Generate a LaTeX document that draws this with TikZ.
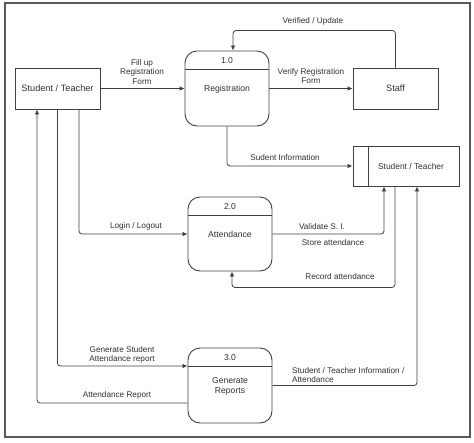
\documentclass[tikz,border=0pt]{standalone}
\usepackage{fontspec}
\setmainfont{Liberation Sans}
\usetikzlibrary{arrows.meta,calc}
\definecolor{ln}{HTML}{404040}
\definecolor{tx}{HTML}{303030}
\tikzset{
  entity/.style={draw=ln,line width=0.9pt,minimum width=85pt,minimum height=41pt,inner sep=0pt,font=\fontsize{9.2}{11}\selectfont,text=tx},
  proc/.style={draw=ln,line width=0.9pt,rounded corners=12pt,minimum width=84pt,minimum height=75pt,inner sep=0pt},
  ptxt/.style={font=\fontsize{8.6}{10}\selectfont,text=tx,align=center},
  lbl/.style={font=\fontsize{8.2}{9.4}\selectfont,text=tx,align=center,inner sep=0pt},
  flow/.style={draw=ln,line width=0.8pt,rounded corners=3pt,-{Latex[length=5pt,width=4.5pt]}}
}
\begin{document}
\begin{tikzpicture}[x=1pt,y=-1pt]
\useasboundingbox (0,0) rectangle (474,442);
\draw[draw=gray!70!black,line width=1.4pt] (5,3) rectangle (470,437);

% entities
\node[entity] (st) at (57.5,88.5) {Student / Teacher};
\node[entity] (staff) at (395.5,88.5) {Staff};
\node[entity,minimum width=106pt,minimum height=40pt] (ds) at (406,166) {\hspace*{10pt}\fontsize{8.4}{10}\selectfont Student / Teacher};
\draw[ln,line width=0.9pt] ([xshift=16pt]ds.north west) -- ([xshift=16pt]ds.south west);

% processes
\node[proc] (reg) at (227,88.5) {};
\draw[ln,line width=0.9pt] ($(reg.north west)+(0,19)$) -- ($(reg.north east)+(0,19)$);
\node[ptxt] (reg1) at (227,61) {1.0};
\node[ptxt] (reg2) at (227,89) {Registration};

\node[proc,minimum height=74pt] (att) at (230,234) {};
\draw[ln,line width=0.9pt] ($(att.north west)+(0,19)$) -- ($(att.north east)+(0,19)$);
\node[ptxt] (att1) at (230,207) {2.0};
\node[ptxt] (att2) at (230,234) {Attendance};

\node[proc] (gen) at (230,385.5) {};
\draw[ln,line width=0.9pt] ($(gen.north west)+(0,19)$) -- ($(gen.north east)+(0,19)$);
\node[ptxt] (gen1) at (230,358) {3.0};
\node[ptxt,font=\fontsize{8.6}{10}\selectfont] (gen2) at (230,386) {Generate\\Reports};

% flows
\draw[flow] (st.east) -- (reg.west);
\draw[flow] (reg.east) -- (staff.west);
\draw[flow] (staff.north) -- ++(0,-37) -| ([xshift=6pt]reg.north);
\draw[flow] (reg.south) |- (ds.west);
\draw[flow] ([xshift=21.5pt]st.south) |- (att.west);
\draw[flow] (st.south) |- ([yshift=19.5pt]gen.west);
\draw[flow] ([yshift=-17.5pt]gen.west) -| ([xshift=-20.5pt]st.south);
\draw[flow] (att.east) -| ([xshift=-22pt]ds.south);
\draw[flow] ([xshift=-11pt]ds.south) -- ++(0,101) -| ([xshift=2pt]att.south);
\draw[flow] (gen.east) -| ([xshift=11pt]ds.south);

% labels
\node[lbl] (l1) at (142,72) {Fill up\\Registration\\Form};
\node[lbl] (l2) at (311,76) {Verify Registration\\Form};
\node[lbl] (l3) at (313,21) {Verified / Update};
\node[lbl] (l4) at (285,158) {Sudent Information};
\node[lbl] (l5) at (136,226) {Login / Logout};
\node[lbl] (l6) at (322,227) {Validate S. I.};
\node[lbl] (l7) at (333,243) {Store attendance};
\node[lbl] (l8) at (340,277) {Record attendance};
\node[lbl] (l9) at (122,355) {Generate Student\\Attendance report};
\node[lbl] (l10) at (117,395) {Attendance Report};
\node[lbl,align=left,anchor=west] (l11) at (292,375) {Student / Teacher Information /\\Attendance};
\end{tikzpicture}
\end{document}
